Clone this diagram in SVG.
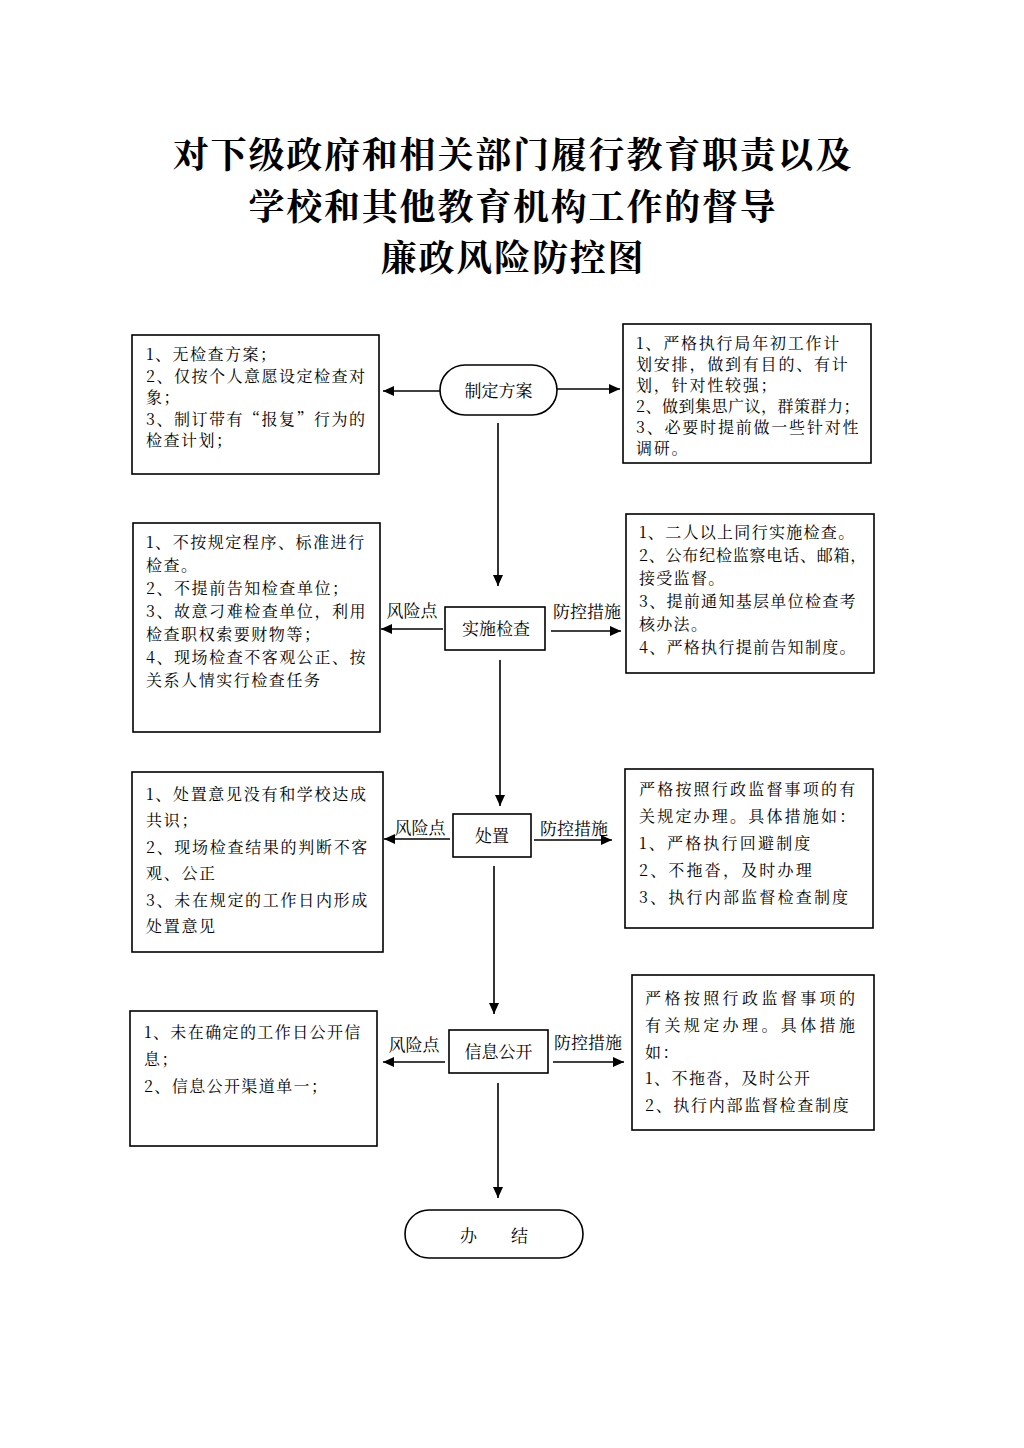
<svg xmlns="http://www.w3.org/2000/svg" width="1024" height="1448" viewBox="0 0 1024 1448">
<style>
.t{font-family:"Noto Serif CJK SC","Noto Sans CJK SC",serif;fill:#000}
.title{font-size:36px;font-weight:bold;letter-spacing:1.8px}
.b{font-size:16px}
.n{font-size:17px}
.box{fill:#fff;stroke:#000;stroke-width:1.6}
.ln{stroke:#000;stroke-width:1.6;fill:none}
</style>
<defs>
<marker id="ah" markerUnits="userSpaceOnUse" markerWidth="12" markerHeight="10" refX="11" refY="5" orient="auto">
<path d="M0,0 L11,5 L0,10 Z" fill="#000"/>
</marker>
</defs>
<rect width="1024" height="1448" fill="#fff"/>
<g id="title">
<text class="t title" x="513" y="168" text-anchor="middle">对下级政府和相关部门履行教育职责以及</text>
<text class="t title" x="513" y="220" text-anchor="middle">学校和其他教育机构工作的督导</text>
<text class="t title" x="513" y="271" text-anchor="middle">廉政风险防控图</text>
</g>
<g id="connectors">
<line class="ln" x1="440" y1="391" x2="383" y2="391" marker-end="url(#ah)"/>
<line class="ln" x1="557" y1="389" x2="620" y2="389" marker-end="url(#ah)"/>
<line class="ln" x1="498" y1="423" x2="498" y2="586" marker-end="url(#ah)"/>
<line class="ln" x1="443" y1="629" x2="381" y2="629" marker-end="url(#ah)"/>
<line class="ln" x1="551" y1="631" x2="621" y2="631" marker-end="url(#ah)"/>
<line class="ln" x1="500" y1="660" x2="500" y2="806" marker-end="url(#ah)"/>
<line class="ln" x1="450" y1="839" x2="384" y2="839" marker-end="url(#ah)"/>
<line class="ln" x1="534" y1="840" x2="612" y2="840" marker-end="url(#ah)"/>
<line class="ln" x1="494" y1="866" x2="494" y2="1014" marker-end="url(#ah)"/>
<line class="ln" x1="445" y1="1062" x2="383" y2="1062" marker-end="url(#ah)"/>
<line class="ln" x1="553" y1="1062" x2="624" y2="1062" marker-end="url(#ah)"/>
<line class="ln" x1="498" y1="1083" x2="498" y2="1198" marker-end="url(#ah)"/>
<text class="t n" x="412" y="617" text-anchor="middle">风险点</text>
<text class="t n" x="587" y="618" text-anchor="middle">防控措施</text>
<text class="t n" x="420" y="834" text-anchor="middle">风险点</text>
<text class="t n" x="574" y="835" text-anchor="middle">防控措施</text>
<text class="t n" x="414" y="1051" text-anchor="middle">风险点</text>
<text class="t n" x="588" y="1049" text-anchor="middle">防控措施</text>
</g>
<g id="n-plan">
<rect class="box" x="440" y="365" width="117" height="50" rx="25"/>
<text class="t n" x="498.5" y="397" text-anchor="middle">制定方案</text>
</g>
<g id="n-plan-risk">
<rect class="box" x="132" y="335" width="247" height="139"/>
<g class="t b" style="letter-spacing:1.5px">
<text x="146" y="360">1、无检查方案；</text>
<text x="146" y="381.5">2、仅按个人意愿设定检查对</text>
<text x="146" y="403">象；</text>
<text x="146" y="424.5">3、制订带有“报复”行为的</text>
<text x="146" y="446">检查计划；</text>
</g>
</g>
<g id="n-plan-ctrl">
<rect class="box" x="623" y="324" width="248" height="139"/>
<g class="t b" style="letter-spacing:1.8px">
<text x="636" y="349">1、严格执行局年初工作计</text>
<text x="636" y="370">划安排，做到有目的、有计</text>
<text x="636" y="391">划，针对性较强；</text>
<text x="636" y="412" style="letter-spacing:0.5px">2、做到集思广议，群策群力；</text>
<text x="636" y="433">3、必要时提前做一些针对性</text>
<text x="636" y="454">调研。</text>
</g>
</g>
<g id="n-check">
<rect class="box" x="445" y="607" width="100" height="43"/>
<text class="t n" x="496" y="635" text-anchor="middle">实施检查</text>
</g>
<g id="n-check-risk">
<rect class="box" x="133" y="523" width="247" height="209"/>
<g class="t b" style="letter-spacing:1.55px">
<text x="146" y="548">1、不按规定程序、标准进行</text>
<text x="146" y="571">检查。</text>
<text x="146" y="594">2、不提前告知检查单位；</text>
<text x="146" y="617">3、故意刁难检查单位，利用</text>
<text x="146" y="640">检查职权索要财物等；</text>
<text x="146" y="663">4、现场检查不客观公正、按</text>
<text x="146" y="686">关系人情实行检查任务</text>
</g>
</g>
<g id="n-check-ctrl">
<rect class="box" x="626" y="514" width="248" height="159"/>
<g class="t b" style="letter-spacing:1.3px">
<text x="639" y="538">1、二人以上同行实施检查。</text>
<text x="639" y="561" style="letter-spacing:0.8px">2、公布纪检监察电话、邮箱，</text>
<text x="639" y="584">接受监督。</text>
<text x="639" y="607">3、提前通知基层单位检查考</text>
<text x="639" y="630">核办法。</text>
<text x="639" y="653">4、严格执行提前告知制度。</text>
</g>
</g>
<g id="n-handle">
<rect class="box" x="453" y="814" width="78" height="43"/>
<text class="t n" x="492" y="842" text-anchor="middle">处置</text>
</g>
<g id="n-handle-risk">
<rect class="box" x="132" y="772" width="251" height="180"/>
<g class="t b" style="letter-spacing:1.7px">
<text x="146" y="800">1、处置意见没有和学校达成</text>
<text x="146" y="826.4">共识；</text>
<text x="146" y="852.8">2、现场检查结果的判断不客</text>
<text x="146" y="879.2">观、公正</text>
<text x="146" y="905.6">3、未在规定的工作日内形成</text>
<text x="146" y="932">处置意见</text>
</g>
</g>
<g id="n-handle-ctrl">
<rect class="box" x="625" y="769" width="248" height="159"/>
<g class="t b" style="letter-spacing:2.2px">
<text x="639" y="795">严格按照行政监督事项的有</text>
<text x="639" y="822">关规定办理。具体措施如：</text>
<text x="639" y="849">1、严格执行回避制度</text>
<text x="639" y="876">2、不拖沓，及时办理</text>
<text x="639" y="903">3、执行内部监督检查制度</text>
</g>
</g>
<g id="n-info">
<rect class="box" x="449" y="1030" width="99" height="43"/>
<text class="t n" x="498.5" y="1058" text-anchor="middle">信息公开</text>
</g>
<g id="n-info-risk">
<rect class="box" x="130" y="1011" width="247" height="135"/>
<g class="t b" style="letter-spacing:1.4px">
<text x="144" y="1038">1、未在确定的工作日公开信</text>
<text x="144" y="1065">息；</text>
<text x="144" y="1092">2、信息公开渠道单一；</text>
</g>
</g>
<g id="n-info-ctrl">
<rect class="box" x="632" y="975" width="242" height="155"/>
<g class="t b">
<text x="645" y="1004" style="letter-spacing:3.4px">严格按照行政监督事项的</text>
<text x="645" y="1031" style="letter-spacing:3.4px">有关规定办理。具体措施</text>
<text x="645" y="1058" style="letter-spacing:1.6px">如：</text>
<text x="645" y="1084" style="letter-spacing:1.5px">1、不拖沓，及时公开</text>
<text x="645" y="1111" style="letter-spacing:1.7px">2、执行内部监督检查制度</text>
</g>
</g>
<g id="n-end">
<rect class="box" x="405" y="1210" width="178" height="48" rx="24"/>
<text class="t n" x="494" y="1242" text-anchor="middle">办　　结</text>
</g>
</svg>
